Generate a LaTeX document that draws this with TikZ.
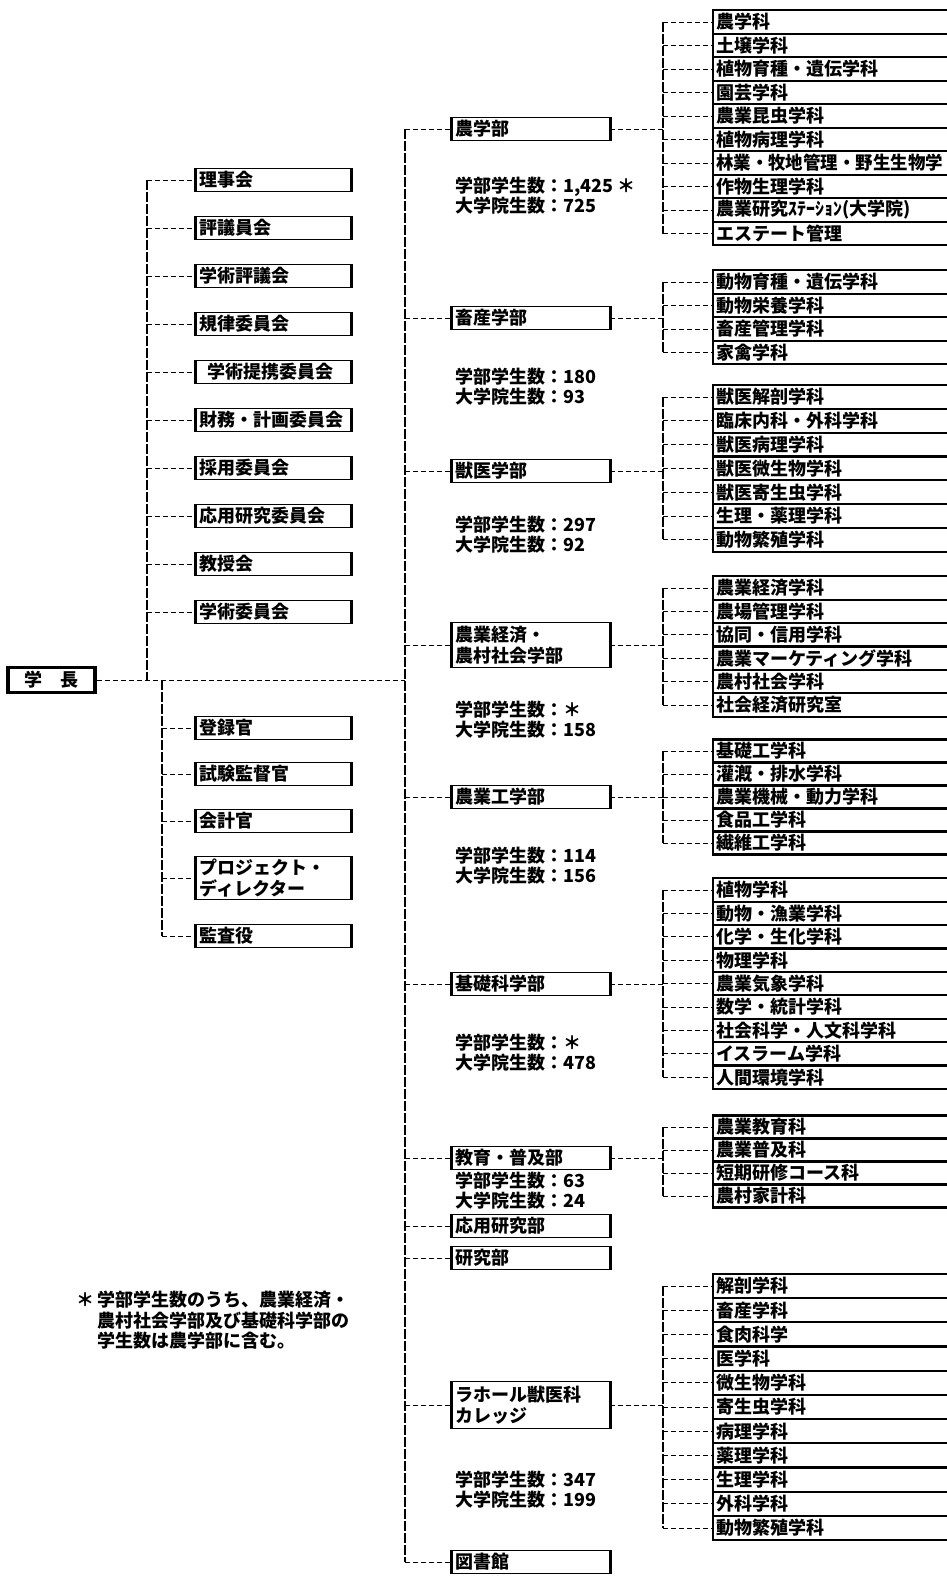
\documentclass[tikz,border=0pt]{standalone}
\usepackage{fontspec}
\usepackage{graphicx}
\newfontfamily\jp{Noto Sans CJK JP}
\tikzset{
  every node/.style={font=\jp\bfseries\fontsize{9pt}{10.5pt}\selectfont},
  hconn/.style={line width=0.5pt, dash pattern=on 2.5pt off 1.5pt},
  vconn/.style={line width=0.7pt, dash pattern=on 5pt off 1pt},
  cbox/.style={draw, line width=0.5pt, anchor=west, text width=73.5pt, inner xsep=2pt,
    inner ysep=0pt, minimum height=11.5pt, align=left},
  fbox/.style={draw, line width=0.5pt, anchor=west, text width=75pt, inner xsep=2pt,
    inner ysep=0pt, minimum height=11.25pt, align=left},
  head/.style={draw, line width=1.8pt, minimum width=43.5pt, minimum height=12.5pt,
    inner sep=0pt, align=center},
  dept/.style={draw, line width=1.1pt, anchor=west, text width=118.5pt, inner xsep=1.5pt,
    inner ysep=0pt, align=left},
  stat/.style={anchor=west, align=left, inner sep=0pt,
    font=\jp\bfseries\fontsize{9pt}{10pt}\selectfont},
  note/.style={anchor=west, inner sep=0pt},
  thickside/.style={line width=1.5pt}
}
\newcommand\deptgrp[6]{%
  \foreach \t [count=\i from 0] in {#6}{
    \node[dept, minimum height=#4*0.5pt] (#1\i) at (712,{#3+\i*#4}) {\t};
  }
  \draw[hconn] (#2.east) -- (#2.east -| bx);
  \draw[vconn] (#10.west -| bx) -- (#1#5.west -| bx);
  \foreach \i in {0,...,#5}{\draw[hconn] (#1\i.west -| bx) -- (#1\i.west);}
}
\begin{document}
\begin{tikzpicture}[x=0.5pt,y=-0.5pt]
\useasboundingbox (0,0) rectangle (947,1576);
\coordinate (ct) at (147,0);
\coordinate (ot) at (162,0);
\coordinate (ft) at (405,0);
\coordinate (bx) at (663,0);

% president
\node[head] (gc) at (51.5,680) {学　長};

% committees
\foreach \t [count=\i] in {理事会,評議員会,学術評議会,規律委員会,\hspace{4pt}学術提携委員会,財務・計画委員会,採用委員会,応用研究委員会,教授会,学術委員会}{
  \node[cbox] (c\i) at (195,{132+48*\i}) {\t};
}
% officers
\node[cbox] (o1) at (195,728) {登録官};
\node[cbox] (o2) at (195,774) {試験監督官};
\node[cbox] (o3) at (195,821) {会計官};
\node[cbox, minimum height=21.5pt] (o4) at (195,878) {プロジェクト・\\ディレクター};
\node[cbox] (o5) at (195,936) {監査役};

% faculties
\node[fbox] (f1) at (451,129) {農学部};
\node[fbox] (f2) at (451,318) {畜産学部};
\node[fbox] (f3) at (451,471) {獣医学部};
\node[fbox, minimum height=22.5pt] (f4) at (451,645) {農業経済・\\農村社会学部};
\node[fbox] (f5) at (451,797) {農業工学部};
\node[fbox] (f6) at (451,984) {基礎科学部};
\node[fbox] (f7) at (451,1158) {教育・普及部};
\node[fbox] (f8) at (451,1226) {応用研究部};
\node[fbox] (f9) at (451,1258) {研究部};
\node[fbox, minimum height=23.5pt] (f10) at (451,1405) {ラホール獣医科\\カレッジ};
\node[fbox] (f11) at (451,1562) {図書館};

% thick sides
\foreach \n in {c1,c2,c3,c4,c5,c6,c7,c8,c9,c10,o1,o2,o3,o4,o5,f1,f2,f3,f4,f5,f6,f7,f8,f9,f10,f11}{
  \draw[thickside] (\n.north west) -- (\n.south west) (\n.north east) -- (\n.south east);
}

% statistics
\node[stat] (s1) at (455,195.5) {学部学生数：1,425 ＊\\大学院生数：725};
\node[stat] (s2) at (455,387) {学部学生数：180\\大学院生数：93};
\node[stat] (s3) at (455,535) {学部学生数：297\\大学院生数：92};
\node[stat] (s4) at (455,719.5) {学部学生数：＊\\大学院生数：158};
\node[stat] (s5) at (455,865.5) {学部学生数：114\\大学院生数：156};
\node[stat] (s6) at (455,1053) {学部学生数：＊\\大学院生数：478};
\node[stat] (s7) at (455,1190.5) {学部学生数：63\\大学院生数：24};
\node[stat] (s10) at (455,1490) {学部学生数：347\\大学院生数：199};

% footnote
\node[note] (fn) at (76,1322) {\def\arraystretch{0.82}\begin{tabular}{@{}l@{\,}l@{}}＊&学部学生数のうち、農業経済・\\&農村社会学部及び基礎科学部の\\&学生数は農学部に含む。\end{tabular}};

% connectors: president
\draw[hconn] (gc.east) -- (gc.east -| ft);
\draw[vconn] (c1.west -| ct) -- (gc.east -| ct);
\foreach \i in {1,...,10}{\draw[hconn] (c\i.west -| ct) -- (c\i.west);}
\draw[vconn] (gc.east -| ot) -- (o5.west -| ot);
\foreach \i in {1,...,5}{\draw[hconn] (o\i.west -| ot) -- (o\i.west);}
\draw[vconn] (f1.west -| ft) -- (f11.west -| ft);
\foreach \i in {1,...,11}{\draw[hconn] (f\i.west -| ft) -- (f\i.west);}

% departments
\deptgrp{ag}{f1}{22}{23.5}{9}{農学科,土壌学科,植物育種・遺伝学科,園芸学科,農業昆虫学科,植物病理学科,\scalebox{0.97}[1]{林業・牧地管理・野生生物学},作物生理学科,農業研究ｽﾃｰｼｮﾝ(大学院),エステート管理}
\deptgrp{an}{f2}{282}{23.5}{3}{動物育種・遺伝学科,動物栄養学科,畜産管理学科,家禽学科}
\deptgrp{vt}{f3}{397}{23.8}{6}{獣医解剖学科,臨床内科・外科学科,獣医病理学科,獣医微生物学科,獣医寄生虫学科,生理・薬理学科,動物繁殖学科}
\deptgrp{ec}{f4}{588}{23.4}{5}{農業経済学科,農場管理学科,協同・信用学科,農業マーケティング学科,農村社会学科,社会経済研究室}
\deptgrp{en}{f5}{751}{23}{4}{基礎工学科,灌漑・排水学科,農業機械・動力学科,食品工学科,繊維工学科}
\deptgrp{bs}{f6}{890}{23.4}{8}{植物学科,動物・漁業学科,化学・生化学科,物理学科,農業気象学科,数学・統計学科,社会科学・人文科学科,イスラーム学科,人間環境学科}
\deptgrp{ed}{f7}{1127}{23}{3}{農業教育科,農業普及科,短期研修コース科,農村家計科}
\deptgrp{lh}{f10}{1286}{24.2}{10}{解剖学科,畜産学科,食肉科学,医学科,微生物学科,寄生虫学科,病理学科,薬理学科,生理学科,外科学科,動物繁殖学科}
\end{tikzpicture}
\end{document}
